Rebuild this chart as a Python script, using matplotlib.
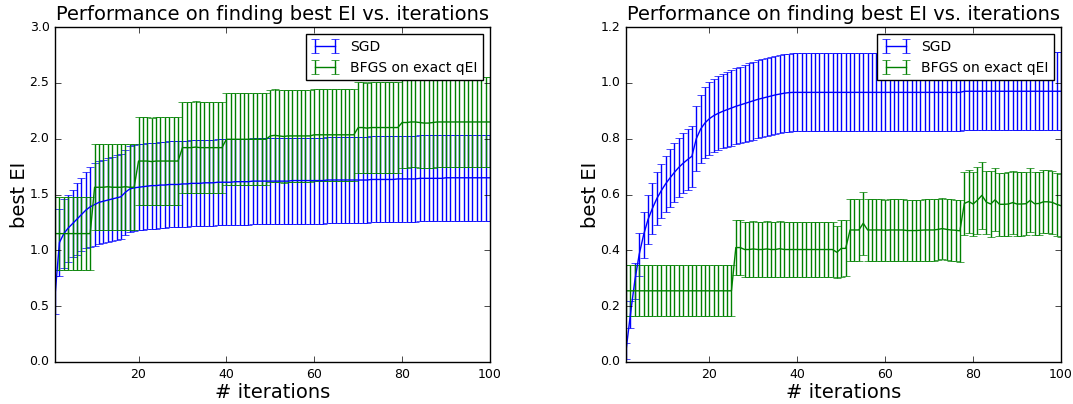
import matplotlib
matplotlib.use("Agg")
import matplotlib.pyplot as plt

plt.style.use("classic")

iterations = list(range(1, 101))

# left panel
sgd_mean_a = [
    0.60, 1.07, 1.15, 1.20, 1.24, 1.28, 1.32, 1.36, 1.39, 1.41,
    1.43, 1.44, 1.45, 1.46, 1.47, 1.48, 1.52, 1.55, 1.56, 1.565,
    1.57, 1.575, 1.58, 1.58, 1.585, 1.585, 1.59, 1.59, 1.59, 1.595,
    1.595, 1.60, 1.60, 1.60, 1.605, 1.605, 1.605, 1.61, 1.61, 1.61,
    1.61, 1.615, 1.615, 1.615, 1.615, 1.62, 1.62, 1.62, 1.62, 1.62,
    1.62, 1.62, 1.62, 1.62, 1.625, 1.625, 1.625, 1.625, 1.625, 1.625,
    1.625, 1.625, 1.63, 1.63, 1.63, 1.63, 1.63, 1.63, 1.63, 1.63,
    1.63, 1.63, 1.635, 1.635, 1.635, 1.635, 1.635, 1.635, 1.64, 1.64,
    1.64, 1.64, 1.64, 1.645, 1.645, 1.645, 1.645, 1.645, 1.645, 1.65,
    1.65, 1.65, 1.65, 1.65, 1.65, 1.65, 1.65, 1.65, 1.65, 1.65,
]
sgd_std_a = [
    0.17, 0.30, 0.31, 0.30, 0.30, 0.32, 0.33, 0.34, 0.36, 0.37,
    0.37, 0.37, 0.375, 0.375, 0.38, 0.38, 0.38, 0.385, 0.385, 0.385,
    0.385, 0.385, 0.385, 0.385, 0.385, 0.385, 0.385, 0.385, 0.385, 0.385,
    0.385, 0.385, 0.385, 0.385, 0.385, 0.385, 0.385, 0.385, 0.385, 0.385,
    0.385, 0.385, 0.385, 0.385, 0.385, 0.385, 0.385, 0.385, 0.385, 0.385,
    0.385, 0.385, 0.385, 0.385, 0.385, 0.385, 0.385, 0.385, 0.385, 0.385,
    0.385, 0.385, 0.385, 0.385, 0.385, 0.385, 0.385, 0.385, 0.385, 0.385,
    0.385, 0.385, 0.385, 0.385, 0.385, 0.385, 0.385, 0.385, 0.385, 0.385,
    0.385, 0.385, 0.385, 0.385, 0.385, 0.385, 0.385, 0.385, 0.385, 0.385,
    0.385, 0.385, 0.385, 0.385, 0.385, 0.385, 0.385, 0.385, 0.385, 0.385,
]
bfgs_mean_a = [
    1.15, 1.15, 1.15, 1.15, 1.15, 1.15, 1.15, 1.15, 1.15, 1.565,
    1.565, 1.565, 1.57, 1.565, 1.565, 1.565, 1.57, 1.565, 1.565, 1.80,
    1.80, 1.80, 1.795, 1.80, 1.80, 1.80, 1.80, 1.80, 1.80, 1.92,
    1.92, 1.92, 1.925, 1.92, 1.92, 1.92, 1.92, 1.92, 1.92, 1.995,
    1.995, 1.995, 1.995, 1.995, 1.995, 1.995, 1.995, 1.995, 1.995, 2.025,
    2.03, 2.025, 2.02, 2.025, 2.025, 2.025, 2.025, 2.025, 2.025, 2.035,
    2.035, 2.035, 2.035, 2.035, 2.035, 2.035, 2.035, 2.035, 2.035, 2.10,
    2.10, 2.095, 2.10, 2.10, 2.10, 2.10, 2.10, 2.10, 2.10, 2.145,
    2.145, 2.15, 2.15, 2.145, 2.14, 2.14, 2.145, 2.15, 2.15, 2.15,
    2.15, 2.15, 2.15, 2.15, 2.15, 2.15, 2.15, 2.15, 2.15, 2.15,
]
bfgs_std_a = [
    0.33, 0.33, 0.33, 0.33, 0.33, 0.33, 0.33, 0.33, 0.33, 0.385,
    0.385, 0.385, 0.385, 0.385, 0.385, 0.385, 0.385, 0.385, 0.385, 0.39,
    0.39, 0.39, 0.39, 0.39, 0.39, 0.39, 0.39, 0.39, 0.39, 0.41,
    0.41, 0.41, 0.41, 0.41, 0.41, 0.41, 0.41, 0.41, 0.41, 0.41,
    0.41, 0.41, 0.41, 0.41, 0.41, 0.41, 0.41, 0.41, 0.41, 0.415,
    0.415, 0.415, 0.42, 0.415, 0.415, 0.415, 0.415, 0.415, 0.415, 0.41,
    0.41, 0.41, 0.41, 0.41, 0.41, 0.41, 0.41, 0.41, 0.41, 0.405,
    0.405, 0.405, 0.405, 0.405, 0.405, 0.405, 0.405, 0.405, 0.405, 0.405,
    0.405, 0.405, 0.405, 0.405, 0.405, 0.405, 0.405, 0.405, 0.405, 0.405,
    0.405, 0.405, 0.405, 0.405, 0.405, 0.405, 0.405, 0.405, 0.405, 0.405,
]

# right panel
sgd_mean_b = [
    0.04, 0.17, 0.29, 0.385, 0.455, 0.51, 0.55, 0.585, 0.613, 0.638,
    0.659, 0.679, 0.697, 0.712, 0.725, 0.737, 0.80, 0.835, 0.857, 0.872,
    0.883, 0.891, 0.898, 0.904, 0.91, 0.916, 0.921, 0.926, 0.931, 0.936,
    0.941, 0.945, 0.949, 0.953, 0.957, 0.96, 0.963, 0.965, 0.966, 0.966,
    0.966, 0.966, 0.966, 0.966, 0.966, 0.966, 0.966, 0.966, 0.966, 0.966,
    0.966, 0.966, 0.966, 0.966, 0.966, 0.966, 0.966, 0.966, 0.966, 0.966,
    0.966, 0.966, 0.966, 0.966, 0.966, 0.966, 0.966, 0.966, 0.966, 0.966,
    0.966, 0.966, 0.966, 0.966, 0.966, 0.966, 0.966, 0.97, 0.97, 0.97,
    0.97, 0.97, 0.97, 0.97, 0.97, 0.97, 0.97, 0.97, 0.97, 0.97,
    0.97, 0.97, 0.97, 0.97, 0.97, 0.97, 0.97, 0.97, 0.97, 0.97,
]
sgd_std_b = [
    0.028, 0.05, 0.065, 0.078, 0.084, 0.087, 0.091, 0.095, 0.097, 0.10,
    0.103, 0.105, 0.106, 0.107, 0.108, 0.109, 0.117, 0.122, 0.127, 0.13,
    0.131, 0.132, 0.133, 0.134, 0.135, 0.136, 0.137, 0.138, 0.139, 0.14,
    0.14, 0.14, 0.14, 0.14, 0.14, 0.14, 0.14, 0.14, 0.14, 0.14,
    0.14, 0.14, 0.14, 0.14, 0.14, 0.14, 0.14, 0.14, 0.14, 0.14,
    0.14, 0.14, 0.14, 0.14, 0.14, 0.14, 0.14, 0.14, 0.14, 0.14,
    0.14, 0.14, 0.14, 0.14, 0.14, 0.14, 0.14, 0.14, 0.14, 0.14,
    0.14, 0.14, 0.14, 0.14, 0.14, 0.14, 0.14, 0.14, 0.14, 0.14,
    0.14, 0.14, 0.14, 0.14, 0.14, 0.14, 0.14, 0.14, 0.14, 0.14,
    0.14, 0.14, 0.14, 0.14, 0.14, 0.14, 0.14, 0.14, 0.14, 0.14,
]
bfgs_mean_b = [
    0.255, 0.255, 0.255, 0.255, 0.255, 0.255, 0.255, 0.255, 0.255, 0.255,
    0.255, 0.255, 0.255, 0.255, 0.255, 0.255, 0.255, 0.255, 0.255, 0.255,
    0.255, 0.255, 0.255, 0.255, 0.255, 0.41, 0.41, 0.403, 0.403, 0.405,
    0.403, 0.403, 0.405, 0.403, 0.403, 0.406, 0.403, 0.403, 0.403, 0.403,
    0.403, 0.403, 0.403, 0.403, 0.403, 0.403, 0.403, 0.403, 0.393, 0.407,
    0.407, 0.473, 0.473, 0.473, 0.497, 0.473, 0.473, 0.473, 0.473, 0.472,
    0.473, 0.473, 0.473, 0.473, 0.471, 0.471, 0.471, 0.472, 0.473, 0.473,
    0.473, 0.475, 0.478, 0.475, 0.473, 0.472, 0.47, 0.568, 0.575, 0.566,
    0.58, 0.597, 0.573, 0.566, 0.581, 0.565, 0.565, 0.566, 0.571, 0.566,
    0.566, 0.567, 0.579, 0.567, 0.568, 0.574, 0.574, 0.572, 0.565, 0.56,
]
bfgs_std_b = [
    0.091, 0.091, 0.091, 0.091, 0.091, 0.091, 0.091, 0.091, 0.091, 0.091,
    0.091, 0.091, 0.091, 0.091, 0.091, 0.091, 0.091, 0.091, 0.091, 0.091,
    0.091, 0.091, 0.091, 0.091, 0.091, 0.10, 0.10, 0.10, 0.10, 0.10,
    0.10, 0.10, 0.10, 0.10, 0.10, 0.10, 0.10, 0.10, 0.10, 0.10,
    0.10, 0.10, 0.10, 0.10, 0.10, 0.10, 0.10, 0.10, 0.093, 0.103,
    0.10, 0.11, 0.11, 0.11, 0.113, 0.11, 0.11, 0.11, 0.11, 0.11,
    0.11, 0.11, 0.11, 0.11, 0.11, 0.11, 0.11, 0.11, 0.11, 0.11,
    0.11, 0.11, 0.11, 0.11, 0.11, 0.11, 0.11, 0.113, 0.113, 0.115,
    0.12, 0.119, 0.113, 0.118, 0.113, 0.113, 0.113, 0.113, 0.113, 0.113,
    0.113, 0.113, 0.115, 0.113, 0.113, 0.113, 0.113, 0.113, 0.113, 0.113,
]

panels = [
    (sgd_mean_a, sgd_std_a, bfgs_mean_a, bfgs_std_a, 3.0, 0.5),
    (sgd_mean_b, sgd_std_b, bfgs_mean_b, bfgs_std_b, 1.2, 0.2),
]
positions = [[0.0513, 0.104, 0.4054, 0.829], [0.5834, 0.104, 0.4054, 0.829]]

fig = plt.figure(figsize=(10.73, 4.04), dpi=100, facecolor="white")

for pos, (sm, ss, bm, bs, ymax, ystep) in zip(positions, panels):
    ax = fig.add_axes(pos)
    ax.errorbar(iterations, sm, yerr=ss, color="b", label="SGD")
    ax.errorbar(iterations, bm, yerr=bs, color="g", label="BFGS on exact qEI")
    ax.set_xlim(1, 100)
    ax.set_ylim(0, ymax)
    ax.set_xticks([20, 40, 60, 80, 100])
    nticks = int(round(ymax / ystep)) + 1
    ax.set_yticks([i * ystep for i in range(nticks)])
    ax.tick_params(labelsize=9)
    ax.set_title("Performance on finding best EI vs. iterations", fontsize=14)
    ax.set_xlabel("# iterations", fontsize=14, labelpad=1.5)
    ax.set_ylabel("best EI", fontsize=14, labelpad=0)
    ax.legend(loc="upper right", fontsize=10)

fig.savefig("out.png", dpi=100, facecolor="white")
